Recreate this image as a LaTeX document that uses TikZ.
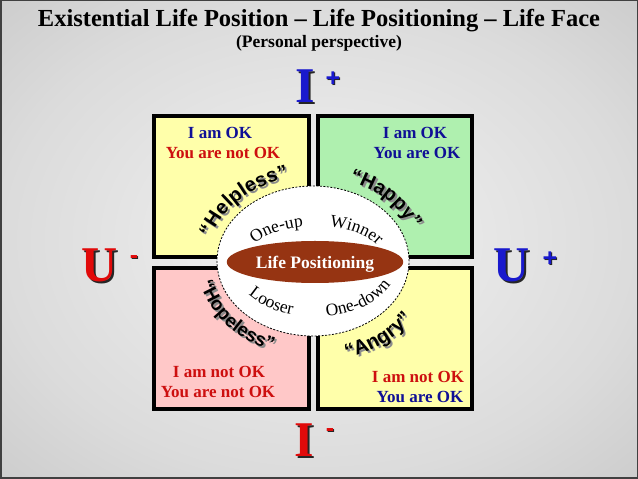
\documentclass[tikz,border=0pt]{standalone}
\usepackage{fontspec}
\setmainfont{Liberation Serif}
\newfontfamily\wordfont{Liberation Sans}
\usetikzlibrary{shapes.geometric,decorations.text}
\definecolor{lightyellow}{RGB}{255,255,170}
\definecolor{lightgreen}{RGB}{175,240,175}
\definecolor{lightpink}{RGB}{255,200,200}
\definecolor{lifebrown}{RGB}{150,52,18}
\definecolor{okblue}{RGB}{15,15,150}
\definecolor{okred}{RGB}{205,15,15}
\definecolor{bigblue}{RGB}{25,25,205}
\definecolor{bigred}{RGB}{225,10,10}
\pgfdeclareradialshading{backglow}{\pgfpoint{0bp}{0bp}}{color(0bp)=(gray!10);color(25bp)=(gray!28);color(50bp)=(gray!55);color(72bp)=(gray!66)}

\begin{document}
\begin{tikzpicture}[x=1pt,y=1pt,
	box/.style={draw=black,line width=4pt},
	okline/.style={font=\bfseries\fontsize{17}{17}\selectfont,inner sep=0pt},
	bigletter/.style={font=\bfseries\fontsize{50}{50}\selectfont,inner sep=0pt},
	sign/.style={font=\wordfont\bfseries\fontsize{25}{25}\selectfont,inner sep=0pt},
	wordring/.style={decorate,decoration={text along path,text align=center,text color=#1}},
	ringlabel/.style={decorate,decoration={text along path,text align=center}}]
	\useasboundingbox (0,0) rectangle (638,479);
	\shade[shading=backglow] (0,0) rectangle (638,479);
	\draw[gray!50!black,line width=1.5pt] (0.75,0.75) rectangle (637.25,478.25);

	\node[font=\bfseries\fontsize{24.5}{24.5}\selectfont] (title) at (319,458) {Existential Life Position – Life Positioning – Life Face};
	\node[font=\bfseries\fontsize{17.5}{17.5}\selectfont] (subtitle) at (319,436) {(Personal perspective)};

	\draw[box,fill=lightyellow] (154,222) rectangle (309,363);
	\draw[box,fill=lightgreen] (318,222) rectangle (472,363);
	\draw[box,fill=lightpink] (154,70) rectangle (309,211);
	\draw[box,fill=lightyellow] (318,70) rectangle (472,211);

	\node[okline,text=okblue] (tl1) at (220,346) {I am OK};
	\node[okline,text=okred] (tl2) at (223,326) {You are not OK};
	\node[okline,text=okblue] (tr1) at (415,346) {I am OK};
	\node[okline,text=okblue] (tr2) at (417,326) {You are OK};
	\node[okline,text=okred] (bl1) at (219,107) {I am not OK};
	\node[okline,text=okred] (bl2) at (218,87) {You are not OK};
	\node[okline,text=okred] (br1) at (418,102) {I am not OK};
	\node[okline,text=okblue] (br2) at (420,82) {You are OK};

	\node[ellipse,draw,dash pattern=on 2pt off 1.5pt,line width=0.8pt,fill=white,minimum width=192,minimum height=150] (ring) at (313,218) {};
	\node[ellipse,fill=lifebrown,text=white,text depth=0pt,minimum width=134,minimum height=42,font=\bfseries\fontsize{17.5}{17.5}\selectfont] (life) at (315,217) {Life Positioning};

	\path[ringlabel,decoration={text={|\fontsize{17.5}{17.5}\selectfont|One-up}}] (315,217) ++(162:70 and 36) arc[start angle=162,end angle=92,x radius=70,y radius=36];
	\path[ringlabel,decoration={text={|\fontsize{17.5}{17.5}\selectfont|Winner}}] (315,217) ++(85:70 and 36) arc[start angle=85,end angle=15,x radius=70,y radius=36];
	\path[ringlabel,decoration={text={|\fontsize{17.5}{17.5}\selectfont|Looser}}] (315,217) ++(198:83 and 55) arc[start angle=198,end angle=268,x radius=83,y radius=55];
	\path[ringlabel,decoration={text={|\fontsize{17.5}{17.5}\selectfont|One-down}}] (315,217) ++(273:83 and 55) arc[start angle=273,end angle=343,x radius=83,y radius=55];

	\foreach \off/\col in {2/gray!90,0/black}{
		\begin{scope}[xshift=\off,yshift=-\off]
		\path[wordring=\col,decoration={text={|\wordfont\bfseries\fontsize{20}{20}\selectfont|“Helpless”}}] (313,218) ++(178:106 and 85) arc[start angle=178,end angle=92,x radius=106,y radius=85];
		\path[wordring=\col,decoration={text={|\wordfont\bfseries\fontsize{20}{20}\selectfont|“Happy”}}] (313,218) ++(86:106 and 85) arc[start angle=86,end angle=2,x radius=106,y radius=85];
		\path[wordring=\col,decoration={text={|\wordfont\bfseries\fontsize{19}{19}\selectfont|“Hopeless”}}] (313,218) ++(178:116 and 96) arc[start angle=178,end angle=262,x radius=116,y radius=96];
		\path[wordring=\col,decoration={text={|\wordfont\bfseries\fontsize{20}{20}\selectfont|“Angry”}}] (313,218) ++(266:122 and 101) arc[start angle=266,end angle=348,x radius=122,y radius=101];
		\end{scope}
	}

	\node[bigletter,text=gray!30!black] (Ip-s) at (307,391) {I};
	\node[bigletter,text=bigblue] (Ip) at (305,393) {I};
	\node[sign,text=gray!30!black] (Ip-sign-s) at (334,399) {+};
	\node[sign,text=bigblue] (Ip-sign) at (333,400) {+};
	\node[bigletter,text=gray!30!black] (Um-s) at (102,212) {U};
	\node[bigletter,text=bigred] (Um) at (100,214) {U};
	\node[sign,text=gray!30!black] (Um-sign-s) at (135,218) {-};
	\node[sign,text=bigred] (Um-sign) at (134,219) {-};
	\node[bigletter,text=gray!30!black] (Up-s) at (514,212) {U};
	\node[bigletter,text=bigblue] (Up) at (512,214) {U};
	\node[sign,text=gray!30!black] (Up-sign-s) at (551,219) {+};
	\node[sign,text=bigblue] (Up-sign) at (550,220) {+};
	\node[bigletter,text=gray!30!black] (Im-s) at (306,37) {I};
	\node[bigletter,text=bigred] (Im) at (304,39) {I};
	\node[sign,text=gray!30!black] (Im-sign-s) at (331,45) {-};
	\node[sign,text=bigred] (Im-sign) at (330,46) {-};
\end{tikzpicture}
\end{document}
